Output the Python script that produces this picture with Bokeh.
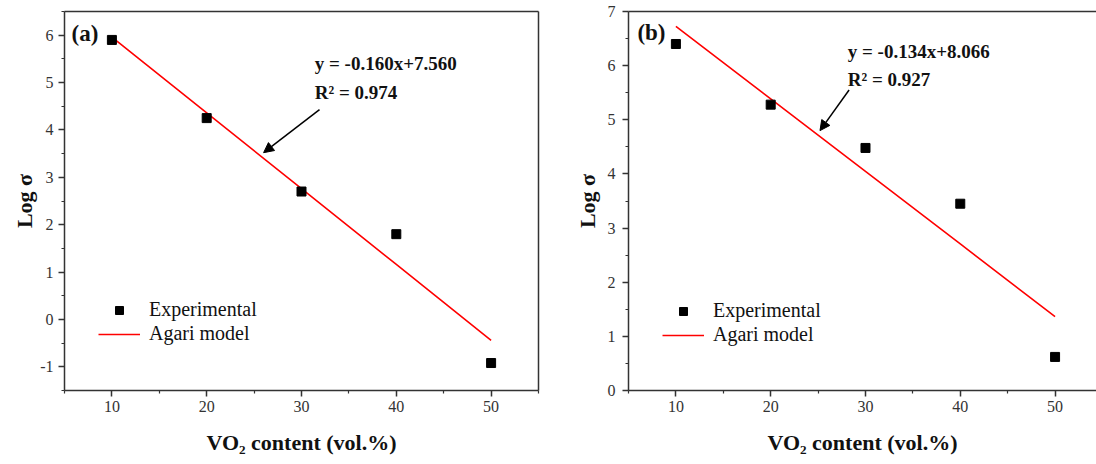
from bokeh.plotting import figure
from bokeh.layouts import row
from bokeh.models import (FixedTicker, LinearAxis, Range1d, Legend, LegendItem,
                          Arrow, NormalHead, Label)
from bokeh.embed import file_html
from bokeh.resources import INLINE

# ---------------- data ----------------
vo2_content = [10, 20, 30, 40, 50]
log_sigma_a = [5.90, 4.25, 2.70, 1.80, -0.92]
log_sigma_b = [6.40, 5.28, 4.48, 3.45, 0.62]
slope_a, intercept_a, r2_a = -0.160, 7.560, 0.974
slope_b, intercept_b, r2_b = -0.134, 8.066, 0.927
x_major_ticks = [10, 20, 30, 40, 50]
x_minor_ticks = [5, 15, 25, 35, 45, 55]
y_ticks_a = [-1, 0, 1, 2, 3, 4, 5, 6]
y_minor_a = [-1.5, -0.5, 0.5, 1.5, 2.5, 3.5, 4.5, 5.5, 6.5]
y_ticks_b = [0, 1, 2, 3, 4, 5, 6, 7]
y_minor_b = [0.5, 1.5, 2.5, 3.5, 4.5, 5.5, 6.5]
series_names = ["Experimental", "Agari model"]
panel_tags = ["(a)", "(b)"]
x_label = "VO\u2082 content (vol.%)"
y_label = "Log \u03c3"

FONT = "Liberation Serif"
AX = "#333333"


def style_axis(ax):
    ax.axis_line_color = AX
    ax.axis_line_width = 1.5
    ax.major_tick_line_color = AX
    ax.minor_tick_line_color = AX
    ax.major_tick_line_width = 1.5
    ax.minor_tick_line_width = 1.2
    ax.major_tick_in = 0
    ax.major_tick_out = 6
    ax.minor_tick_in = 0
    ax.minor_tick_out = 3
    ax.major_label_text_font = FONT
    ax.major_label_text_font_style = "normal"
    ax.major_label_text_font_size = "16px"
    ax.major_label_text_color = AX
    ax.axis_label_text_font = FONT
    ax.axis_label_text_font_style = "bold"
    ax.axis_label_text_font_size = "22px"
    ax.axis_label_text_color = "#111111"


def frame_axis(p, side):
    ax = LinearAxis(ticker=FixedTicker(ticks=[]), axis_line_color=AX,
                    axis_line_width=1.5, major_tick_out=0, major_tick_in=0,
                    minor_tick_out=0, minor_tick_in=0, major_label_standoff=0)
    p.add_layout(ax, side)


def make_panel(width, min_left, min_right, y0, y1, x1, ys, slope, intercept, r2,
               yt, ymin, tag, tag_xy, eq_xy, arrow_xy, y_standoff, ylab_standoff,
               legend_loc, right_frame):
    p = figure(width=width, height=464, output_backend="svg", toolbar_location=None,
               x_range=Range1d(5, x1), y_range=Range1d(y0, y1),
               min_border_left=min_left, min_border_right=min_right,
               min_border_top=11, min_border_bottom=74,
               background_fill_color="white", border_fill_color="white")
    p.grid.visible = False
    p.outline_line_color = None

    xa = p.xaxis[0]
    ya = p.yaxis[0]
    style_axis(xa)
    style_axis(ya)
    xa.ticker = FixedTicker(ticks=x_major_ticks, minor_ticks=x_minor_ticks)
    ya.ticker = FixedTicker(ticks=yt, minor_ticks=ymin)
    ya.major_label_overrides = {t: "%d" % t for t in yt}
    xa.major_label_standoff = 4
    ya.major_label_standoff = y_standoff
    ya.axis_label = y_label
    ya.axis_label_standoff = ylab_standoff
    xa.axis_label = x_label
    xa.axis_label_standoff = 15

    frame_axis(p, "above")
    if right_frame:
        frame_axis(p, "right")

    fit = [slope * x + intercept for x in vo2_content]
    ln = p.line(vo2_content, fit, line_color="#ff0000", line_width=1.6)
    sc = p.scatter(vo2_content, ys, marker="square", size=9, fill_color="black",
                   line_color="black")

    legend = Legend(items=[LegendItem(label=series_names[0], renderers=[sc]),
                           LegendItem(label=series_names[1], renderers=[ln])],
                    location=legend_loc, padding=0, margin=0, spacing=1,
                    glyph_width=42, glyph_height=20, label_height=20,
                    label_standoff=9, border_line_color=None,
                    background_fill_alpha=0, label_text_font=FONT,
                    label_text_font_style="normal",
                    label_text_font_size="20px", label_text_color="#111111")
    p.add_layout(legend)

    p.add_layout(Label(x=tag_xy[0], y=tag_xy[1], text=tag, text_font=FONT,
                       text_font_style="bold", text_font_size="23px",
                       text_color="#111111", text_baseline="middle"))
    p.add_layout(Label(x=eq_xy[0], y=eq_xy[1],
                       text="y = %.3fx+%.3f" % (slope, intercept), text_font=FONT,
                       text_font_style="bold", text_font_size="19px",
                       text_color="#111111", text_baseline="middle"))
    p.add_layout(Label(x=eq_xy[0], y=eq_xy[2], text="R\u00b2 = %.3f" % r2,
                       text_font=FONT, text_font_style="bold",
                       text_font_size="19px", text_color="#111111",
                       text_baseline="middle"))
    p.add_layout(Arrow(end=NormalHead(size=10, fill_color="black", line_color="black"),
                       x_start=arrow_xy[0], y_start=arrow_xy[1],
                       x_end=arrow_xy[2], y_end=arrow_xy[3],
                       line_color="black", line_width=1.5))
    return p


pa = make_panel(548, 64, 10, -1.5, 6.5, 55, log_sigma_a, slope_a, intercept_a, r2_a,
                y_ticks_a, y_minor_a, panel_tags[0], (5.74, 6.04),
                (31.4, 5.40, 4.80), (31.9, 4.43, 26.0, 3.52), 5, 0, (34, 45),
                True)
pb = make_panel(548, 80, 0, 0, 7, 54.37, log_sigma_b, slope_b, intercept_b, r2_b,
                y_ticks_b, y_minor_b, panel_tags[1], (5.94, 6.62),
                (28.13, 6.26, 5.75), (28.27, 5.55, 25.2, 4.80), 7, 5, (34, 44),
                False)

layout = row(pa, pb, spacing=0)
open("out.html", "w").write(file_html(layout, INLINE))
